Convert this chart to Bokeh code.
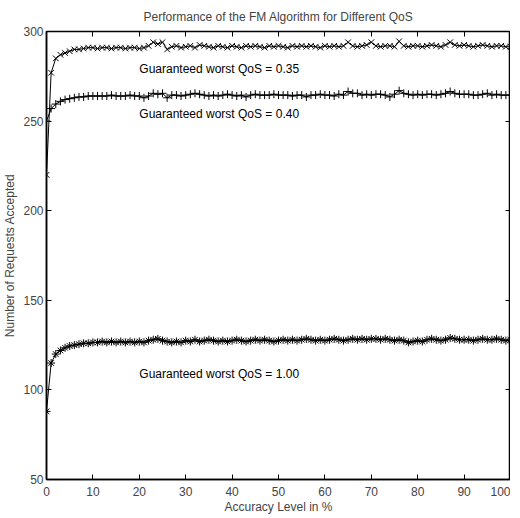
from bokeh.plotting import figure
from bokeh.models import Label, LinearAxis, FixedTicker, Range1d
from bokeh.embed import file_html
from bokeh.resources import INLINE

title = "Performance of the FM Algorithm for Different QoS"
x_label = "Accuracy Level in %"
y_label = "Number of Requests Accepted"
x_ticks = [0, 10, 20, 30, 40, 50, 60, 70, 80, 90, 100]
y_ticks = [50, 100, 150, 200, 250, 300]

accuracy = list(range(0, 101))

qos_035 = [220, 277, 285, 287, 288, 289, 290, 290, 290.5, 291,
           291, 290.5, 291, 291, 290.5, 291, 291, 290.5, 291, 291,
           290.5, 291, 292, 294, 293, 294, 290, 291.5, 292, 291,
           291.5, 292, 291, 292.5, 292, 291.5, 291, 292, 291.5, 291,
           292, 291.5, 291, 292, 291.5, 292, 291.5, 291, 292, 291.5,
           292, 291.5, 291, 292, 291.5, 292, 291.5, 292, 291.5, 291,
           292, 291.5, 292, 291.5, 292, 294, 292, 291.5, 292, 292.5,
           294, 292, 291.5, 292, 292, 291.5, 294.5, 292, 291.5, 292,
           292, 291.5, 292, 292.5, 292, 291.5, 292.5, 294, 292.5, 292,
           292.5, 292, 291.5, 292, 292.5, 292, 291.5, 292, 292, 291.5,
           291.5]

qos_040 = [250, 257, 259.5, 261, 262, 262.5, 263, 263.5, 263.5, 264,
           264, 264, 264, 264, 264.5, 264, 264, 264, 264.5, 264,
           264, 263, 264, 265.5, 265, 265.5, 263, 264.5, 264.5, 264,
           264.5, 265, 265.5, 265, 264.5, 264, 264.5, 264, 264.5, 265,
           264.5, 264, 264.5, 263.5, 264.5, 265, 264.5, 264.5, 264.5, 265,
           264.5, 264.5, 264.5, 264, 264.5, 264.5, 263.5, 264.5, 264.5, 265,
           264.5, 264.5, 264, 265, 264.5, 266.5, 265.5, 265.5, 264.5, 265,
           264.5, 265, 265, 264.5, 263.5, 265, 267, 265.5, 265, 264.5,
           265, 264.5, 265, 265, 264.5, 265, 265.5, 266.5, 265.5, 265,
           265, 265, 264.5, 264.5, 265, 265.5, 264.5, 265, 264.5, 264.5,
           264.5]

qos_100 = [88, 115, 120, 122, 123.5, 124.5, 125, 125.5, 126, 126,
           126.5, 126.5, 127, 126.5, 127, 126.5, 127, 126.5, 127, 126.5,
           127, 126.5, 127.5, 128, 128.5, 127.5, 127, 126.5, 127, 126.5,
           127.5, 127, 128, 127, 127.5, 128, 127.5, 127, 127.5, 127,
           127.5, 128, 127.5, 127, 127.5, 128, 127.5, 128, 127.5, 127,
           127.5, 128, 127.5, 128, 127.5, 128, 128.5, 128, 127.5, 128,
           127.5, 128, 128.5, 128, 127.5, 128, 128.5, 128, 128.5, 128,
           128.5, 128.5, 128, 128.5, 128, 127.5, 128, 127.5, 126.5, 127,
           127.5, 127, 128, 128.5, 128, 127.5, 128, 129, 128.5, 128,
           128, 128, 127.5, 128, 128.5, 128, 128, 128.5, 128, 127.5,
           128]

labels = ["Guaranteed worst QoS = 0.35", "Guaranteed worst QoS = 0.40",
          "Guaranteed worst QoS = 1.00"]
label_x = [20, 20, 20]
label_y = [279, 254, 109]

FONT = "Liberation Sans"

p = figure(frame_width=464, frame_height=448, output_backend="svg", toolbar_location=None,
           x_range=Range1d(0, 100), y_range=Range1d(50, 300),
           min_border_left=0, min_border_right=0, min_border_top=0, min_border_bottom=0)
p.title.text = title
p.title.align = "center"
p.title.text_font = FONT
p.title.text_font_size = "12px"
p.title.text_font_style = "normal"
p.title.text_line_height = 1.0
p.title.standoff = 15

p.grid.visible = False
p.outline_line_color = "black"
p.outline_line_width = 1.5

for ax in [p.xaxis[0], p.yaxis[0]]:
    ax.major_tick_in = 5
    ax.major_tick_out = 0
    ax.minor_tick_in = 0
    ax.minor_tick_out = 0
    ax.axis_line_width = 1.5
    ax.major_label_text_font = FONT
    ax.major_label_text_font_size = "12px"
    ax.axis_label_text_font = FONT
    ax.axis_label_text_font_size = "12px"
    ax.axis_label_text_font_style = "normal"

p.xaxis[0].major_label_standoff = 7
p.xaxis[0].axis_label_standoff = 1
p.yaxis[0].major_label_standoff = 3
p.yaxis[0].axis_label_standoff = 3
p.yaxis[0].axis_label_text_baseline = "top"

p.xaxis[0].ticker = FixedTicker(ticks=x_ticks)
p.yaxis[0].ticker = FixedTicker(ticks=y_ticks)
p.xaxis[0].axis_label = x_label
p.yaxis[0].axis_label = y_label

top = LinearAxis(ticker=FixedTicker(ticks=x_ticks),
                 major_label_overrides={t: "" for t in x_ticks},
                 major_tick_in=5, major_tick_out=0, minor_tick_in=0, minor_tick_out=0,
                 major_label_standoff=0, axis_line_color=None)
p.add_layout(top, "above")
right = LinearAxis(ticker=FixedTicker(ticks=y_ticks),
                   major_label_overrides={t: "" for t in y_ticks},
                   major_tick_in=5, major_tick_out=0, minor_tick_in=0, minor_tick_out=0,
                   major_label_standoff=0, axis_line_color=None)
p.add_layout(right, "right")

p.line(accuracy, qos_035, line_color="black", line_width=1)
p.scatter(accuracy, qos_035, marker="x", size=8, line_color="black", line_width=1)
p.line(accuracy, qos_040, line_color="black", line_width=1)
p.scatter(accuracy, qos_040, marker="cross", size=8, line_color="black", line_width=1)
p.line(accuracy, qos_100, line_color="black", line_width=1)
p.scatter(accuracy, qos_100, marker="asterisk", size=8, line_color="black", line_width=1)

for t, lx, ly in zip(labels, label_x, label_y):
    p.add_layout(Label(x=lx, y=ly, text=t, text_font=FONT, text_font_size="12px",
                       text_baseline="middle", text_color="black"))

open("out.html", "w").write(file_html(p, INLINE))
